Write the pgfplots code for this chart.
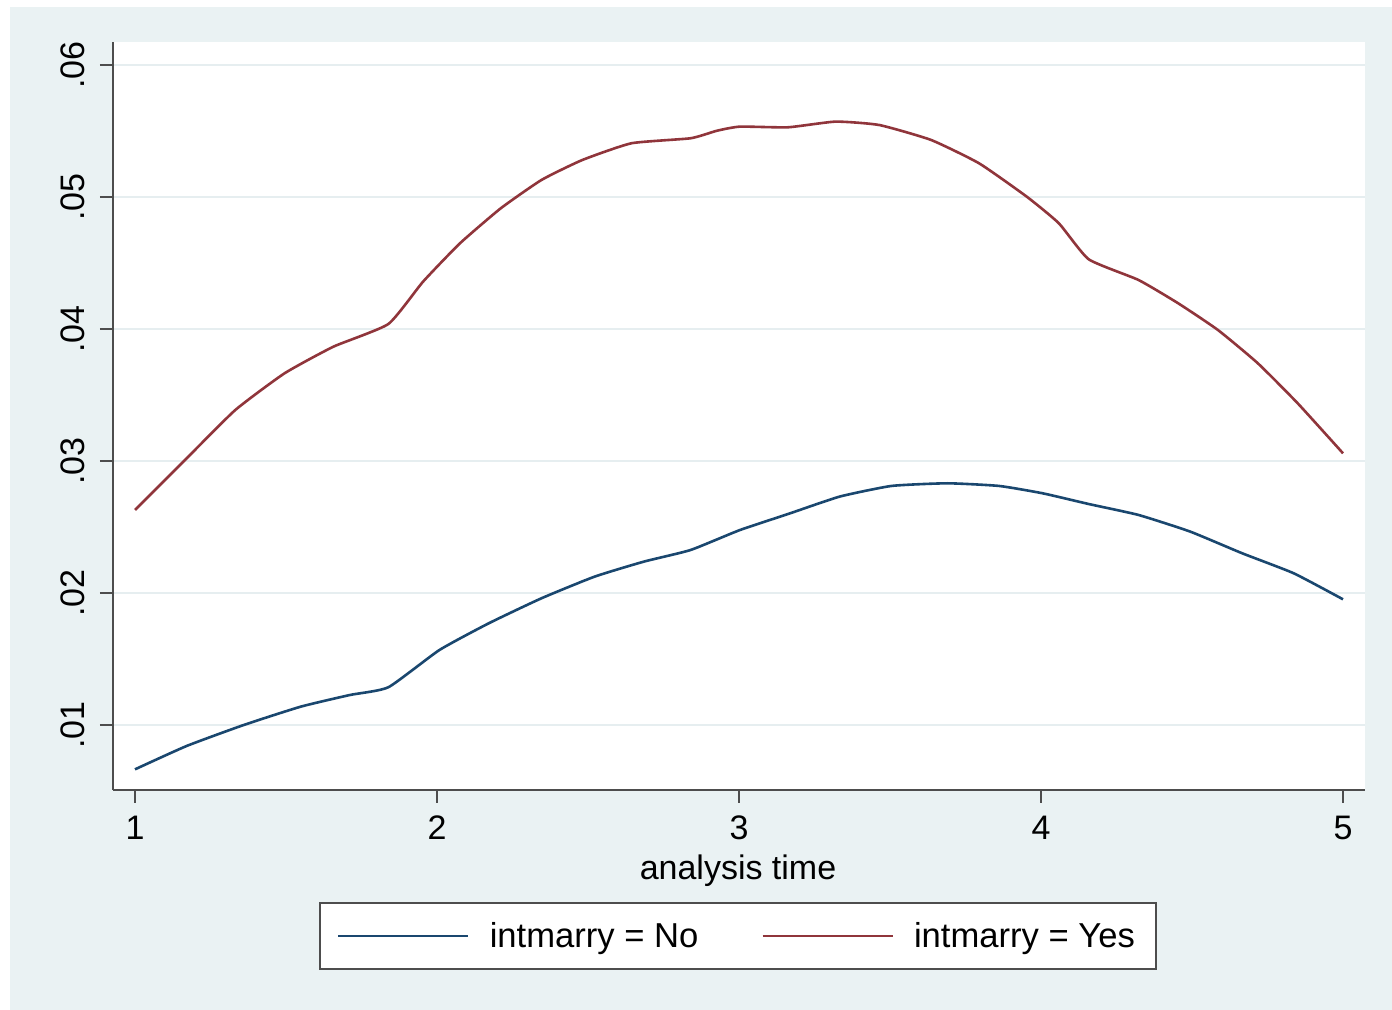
\documentclass[border=0pt]{standalone}
\usepackage{fontspec}
\setmainfont{Liberation Sans}
\usepackage{pgfplots}
\pgfplotsset{compat=1.18}
\definecolor{bgc}{HTML}{EAF2F3}
\definecolor{gridc}{HTML}{E6EEF0}
\definecolor{navy}{HTML}{1A476F}
\definecolor{maroon}{HTML}{90353B}
\definecolor{axc}{HTML}{4D4D4D}
\begin{document}
\begin{tikzpicture}
\fill[bgc] (5pt,0pt) rectangle (696pt,501.5pt);
\begin{axis}[
  at={(56.5pt,110pt)}, anchor=south west,
  scale only axis, width=626pt, height=374pt,
  xmin=0.92715, xmax=5.0728, ymin=0.005076, ymax=0.061742,
  scaled y ticks=false, scaled x ticks=false,
  axis x line*=bottom, axis y line*=left,
  axis line style={axc, line width=1pt, -},
  axis background/.style={fill=white},
  xtick={1,2,3,4,5}, xticklabels={1,2,3,4,5},
  ytick={0.01,0.02,0.03,0.04,0.05,0.06},
  yticklabels={.01,.02,.03,.04,.05,.06},
  /pgf/number format/assume math mode=true,
  tick align=outside, major tick length=6.5pt,
  tick style={axc, line width=1pt},
  ticklabel style={font=\fontsize{17}{20}\selectfont},
  yticklabel style={rotate=90, anchor=south},
  yticklabel shift=4pt,
  xticklabel style={anchor=north},
  xticklabel shift=3pt,
  ymajorgrids, grid style={gridc, line width=1pt},
  xlabel={analysis time},
  xlabel style={font=\fontsize{17}{20}\selectfont, at={(axis description cs:0.4992,-0.1083)}, anchor=center},
  legend columns=2,
  legend cell align=left,
  legend image code/.code={\draw[#1] (0pt,0pt) -- (65pt,0pt);},
  legend style={at={(0.4992,-0.1952)}, anchor=center,
    draw=axc, line width=1pt, fill=white,
    font=\fontsize{17.3}{20}\selectfont,
    inner xsep=8.5pt, inner ysep=7.5pt,
    /tikz/every odd column/.append style={column sep=8pt},
    /tikz/every even column/.append style={column sep=29.5pt}},
]
\addplot[navy, line width=1.3pt, smooth, tension=0.3] coordinates {
(1.000,0.00664) (1.171,0.00841) (1.360,0.01000) (1.549,0.01139) (1.711,0.01227)
(1.839,0.01286) (2.008,0.01568) (2.171,0.01770) (2.346,0.01960) (2.522,0.02124)
(2.684,0.02237) (2.840,0.02326) (3.003,0.02477) (3.162,0.02598) (3.333,0.02730)
(3.505,0.02811) (3.690,0.02831) (3.861,0.02811) (4.006,0.02755) (4.158,0.02674)
(4.323,0.02591) (4.494,0.02465) (4.666,0.02301) (4.837,0.02149) (5.000,0.01952)
};
\addlegendentry{intmarry = No}
\addplot[maroon, line width=1.3pt, smooth, tension=0.3] coordinates {
(1.000,0.02629) (1.171,0.03020) (1.332,0.03386) (1.495,0.03664) (1.657,0.03866)
(1.839,0.04038) (1.954,0.04359) (2.076,0.04649) (2.211,0.04914) (2.346,0.05129)
(2.481,0.05280) (2.644,0.05407) (2.840,0.05445) (2.927,0.05502) (3.003,0.05533)
(3.162,0.05528) (3.320,0.05571) (3.465,0.05545) (3.636,0.05432) (3.795,0.05255)
(3.953,0.05002) (4.059,0.04801) (4.158,0.04528) (4.323,0.04371) (4.454,0.04195)
(4.586,0.03992) (4.718,0.03740) (4.850,0.03437) (5.000,0.03058)
};
\addlegendentry{intmarry = Yes\hspace{3pt}}
\end{axis}
\pgfresetboundingbox
\path[use as bounding box] (0pt,0pt) rectangle (696pt,505pt);
\end{tikzpicture}
\end{document}
